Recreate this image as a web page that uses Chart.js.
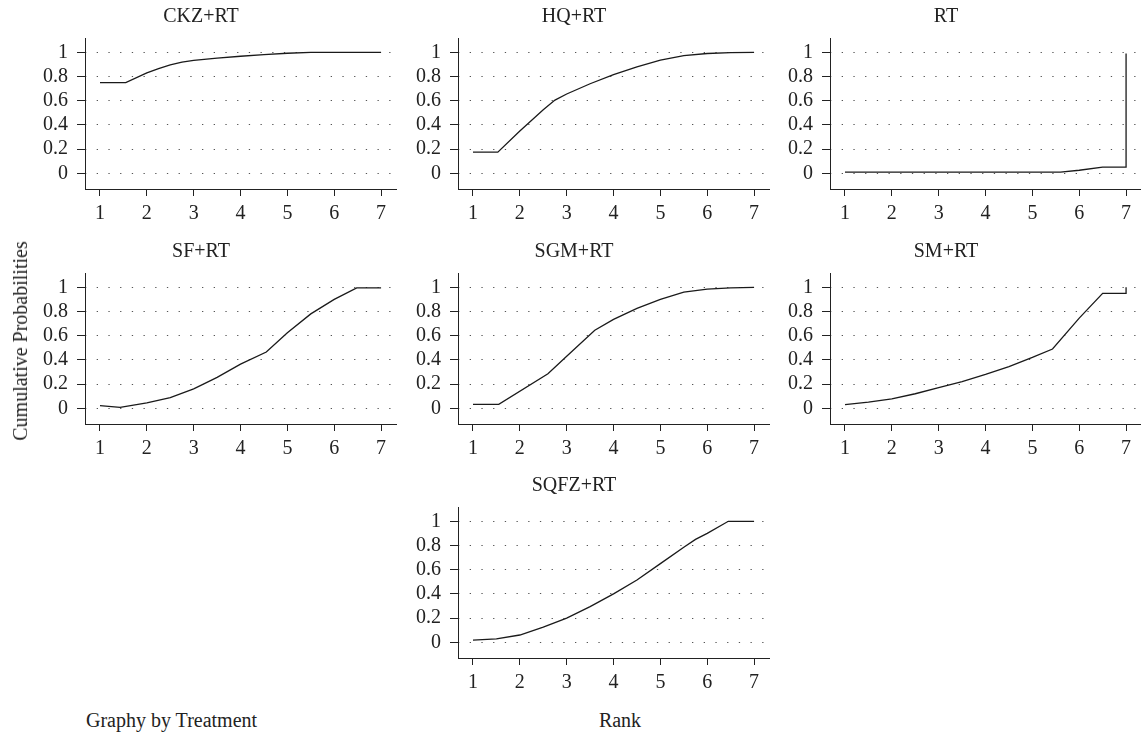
<!DOCTYPE html>
<html>
<head>
<meta charset="utf-8">
<script src="https://cdn.jsdelivr.net/npm/chart.js@4"></script>
<style>
  body { margin: 0; background: #fff; overflow: hidden; width: 1141px; height: 737px; position: relative; }
  canvas { position: absolute; }
  .lbl { position: absolute; font-family: 'Liberation Serif', 'DejaVu Serif', serif; font-size: 20px; line-height: 24px; color: #222; white-space: nowrap; }
</style>
</head>
<body>
<canvas id="c0"></canvas>
<canvas id="c1"></canvas>
<canvas id="c2"></canvas>
<canvas id="c3"></canvas>
<canvas id="c4"></canvas>
<canvas id="c5"></canvas>
<canvas id="c6"></canvas>
<div class="lbl" style="left:20px;top:341px;transform:translate(-50%,-50%) rotate(-90deg);">Cumulative Probabilities</div>
<div class="lbl" style="left:86px;top:708px;">Graphy by Treatment</div>
<div class="lbl" style="left:620px;top:708px;transform:translateX(-50%);">Rank</div>
<script>
// tick labels
const rankTicks = [1, 2, 3, 4, 5, 6, 7];
const probTicks = [0, 0.2, 0.4, 0.6, 0.8, 1];

// treatments, in panel order
const treatments = ['CKZ+RT', 'HQ+RT', 'RT', 'SF+RT', 'SGM+RT', 'SM+RT', 'SQFZ+RT'];

// cumulative ranking curves (rank, probability)
const ckzRank = [1, 1.55, 2, 2.25, 2.5, 2.75, 3, 3.5, 4, 4.5, 5, 5.5, 7];
const ckzProb = [0.75, 0.75, 0.83, 0.865, 0.895, 0.918, 0.933, 0.952, 0.967, 0.981, 0.992, 1.0, 1.0];

const hqRank = [1, 1.53, 2, 2.5, 2.75, 3, 3.5, 4, 4.5, 5, 5.5, 6, 6.5, 7];
const hqProb = [0.175, 0.175, 0.35, 0.525, 0.605, 0.655, 0.74, 0.815, 0.88, 0.935, 0.972, 0.99, 0.997, 1.0];

const rtRank = [1, 5.6, 6, 6.5, 7, 7];
const rtProb = [0.01, 0.01, 0.025, 0.05, 0.05, 0.99];

const sfRank = [1, 1.43, 2, 2.5, 3, 3.5, 4, 4.55, 5, 5.5, 6, 6.48, 7];
const sfProb = [0.022, 0.008, 0.044, 0.088, 0.16, 0.255, 0.365, 0.465, 0.625, 0.78, 0.9, 0.995, 0.995];

const sgmRank = [1, 1.55, 2.6, 3, 3.6, 4, 4.5, 5, 5.5, 6, 6.5, 7];
const sgmProb = [0.033, 0.033, 0.285, 0.43, 0.645, 0.735, 0.825, 0.9, 0.96, 0.985, 0.995, 1.0];

const smRank = [1, 1.5, 2, 2.5, 3, 3.5, 4, 4.5, 5, 5.43, 6, 6.5, 7, 7];
const smProb = [0.03, 0.05, 0.077, 0.12, 0.17, 0.22, 0.28, 0.345, 0.42, 0.49, 0.745, 0.95, 0.95, 1.0];

const sqfzRank = [1, 1.5, 2, 2.5, 3, 3.5, 4, 4.5, 5, 5.5, 5.75, 6, 6.45, 7];
const sqfzProb = [0.017, 0.028, 0.06, 0.125, 0.2, 0.295, 0.4, 0.515, 0.65, 0.785, 0.85, 0.9, 1.0, 1.0];

const curves = [
  [ckzRank, ckzProb], [hqRank, hqProb], [rtRank, rtProb],
  [sfRank, sfProb], [sgmRank, sgmProb], [smRank, smProb],
  [sqfzRank, sqfzProb]
];

// canvas placement: [left, top]
const spots = [[5, 0], [378, 0], [750, 0], [5, 235], [378, 235], [750, 235], [378, 469]];

const INK = '#222';
Chart.defaults.font.family = "'Liberation Serif', 'DejaVu Serif', serif";
Chart.defaults.font.size = 20;
Chart.defaults.color = INK;

function makePanel(i) {
  const cv = document.getElementById('c' + i);
  cv.width = 392;
  cv.height = 234;
  cv.style.left = spots[i][0] + 'px';
  cv.style.top = spots[i][1] + 'px';
  const pts = curves[i][0].map((r, k) => ({x: r, y: curves[i][1][k]}));

  new Chart(cv, {
    type: 'line',
    data: {
      datasets: [{
        data: pts,
        borderColor: '#1a1a1a',
        borderWidth: 1.3,
        pointRadius: 0,
        tension: 0,
        fill: false
      }]
    },
    options: {
      responsive: false,
      animation: false,
      devicePixelRatio: 1,
      layout: { padding: 0 },
      plugins: {
        legend: { display: false },
        tooltip: { enabled: false },
        title: {
          display: true,
          text: treatments[i],
          color: INK,
          font: { size: 20, weight: 'normal', lineHeight: 1.2 },
          padding: { top: 5, bottom: 9 }
        }
      },
      scales: {
        x: {
          type: 'linear',
          min: 0.68, max: 7.34,
          afterBuildTicks: s => { s.ticks = rankTicks.map(v => ({value: v})); },
          afterFit: s => { s.height = 45; },
          grid: { drawOnChartArea: false, tickLength: 7, color: INK, lineWidth: 1 },
          border: { color: INK, width: 1 },
          ticks: { padding: 6, color: INK, maxRotation: 0, autoSkip: false, callback: v => String(v) }
        },
        y: {
          type: 'linear',
          position: 'left',
          min: -0.13, max: 1.118,
          afterBuildTicks: s => { s.ticks = probTicks.map(v => ({value: v})); },
          afterFit: s => { s.width = 80; },
          grid: { drawOnChartArea: false, tickLength: 8, color: INK, lineWidth: 1 },
          border: { color: INK, width: 1 },
          ticks: { padding: 9, color: INK, autoSkip: false, callback: v => String(v) }
        },
        yg: {
          type: 'linear',
          position: 'left',
          min: -0.13, max: 1.118,
          afterBuildTicks: s => { s.ticks = probTicks.map(v => ({value: v})); },
          afterFit: s => { s.width = 0; },
          grid: { drawTicks: false, color: '#555', lineWidth: 1 },
          border: { display: false, dash: [1.3, 10.4] },
          ticks: { display: false }
        }
      }
    }
  });
}

for (let i = 0; i < treatments.length; i++) makePanel(i);
</script>
</body>
</html>
